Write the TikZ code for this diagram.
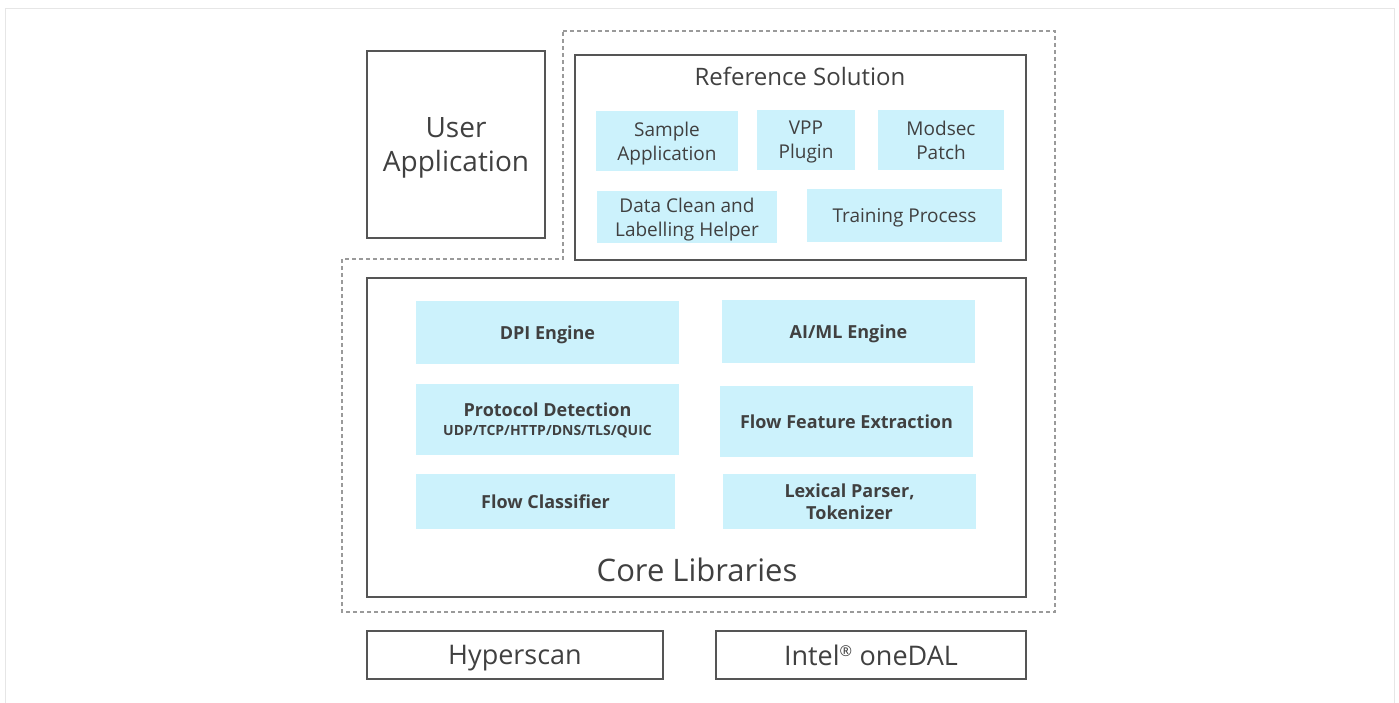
\documentclass[tikz,border=0pt]{standalone}
\usepackage{fontspec}
\setmainfont{Open Sans}
\definecolor{boxcyan}{HTML}{CCF2FC}
\definecolor{txtgray}{HTML}{404040}
\definecolor{linegray}{HTML}{555555}
\definecolor{dashgray}{HTML}{9A9A9A}
\definecolor{framegray}{HTML}{E6E6E6}

\begin{document}
\begin{tikzpicture}[x=1pt,y=-1pt,
    outbox/.style={draw=linegray,line width=1.4pt,inner sep=0pt,align=center,text=txtgray,text depth=0pt},
    refbox/.style={fill=boxcyan,inner sep=0pt,align=center,text=txtgray,text depth=0pt,font=\fontsize{19}{24}\selectfont},
    corebox/.style={fill=boxcyan,inner sep=0pt,align=center,text=txtgray,text depth=-0.5pt,font=\bfseries\fontsize{18}{22}\selectfont}]
    \useasboundingbox (0,0) rectangle (1399,703);
    \draw [framegray] (5,703) -- (5,8) -- (1394,8) -- (1394,703); 	% frame
    % % ----- dashed group ----- % %
    \draw [dashgray,line width=1.2pt,dash pattern=on 4pt off 3pt] (563,31) -- (1055,31) -- (1055,612) -- (342,612) -- (342,259) -- (563,259) -- cycle;
    % % ----- user application ----- % %
    \node [outbox,minimum width=178pt,minimum height=187pt,font=\fontsize{28}{34}\selectfont] (userapp) at (456,144.5) {User\\Application};
    % % ----- reference solution ----- % %
    \node [outbox,minimum width=451pt,minimum height=205pt] (refsol) at (800.5,157.5) {};
    \node [text=txtgray,font=\fontsize{24}{28}\selectfont] (reftitle) at (800,76) {Reference Solution};
    \node [refbox,minimum width=142pt,minimum height=60pt] (sample) at (667,141) {Sample\\Application}; 		% sample app
    \node [refbox,minimum width=98pt,minimum height=60pt] (vpp) at (806,140) {VPP\\Plugin}; 				% vpp
    \node [refbox,minimum width=126pt,minimum height=60pt] (modsec) at (941,140) {Modsec\\Patch}; 			% modsec
    \node [refbox,minimum width=180pt,minimum height=52pt] (dataclean) at (687,217) {Data Clean and\\Labelling Helper};
    \node [refbox,minimum width=195pt,minimum height=53pt] (training) at (904.5,215.5) {Training Process};
    % % ----- core libraries ----- % %
    \node [outbox,minimum width=659pt,minimum height=319pt] (core) at (696.5,437.5) {};
    \node [corebox,minimum width=263pt,minimum height=63pt] (dpi) at (547.5,332.5) {DPI Engine};
    \node [corebox,minimum width=253pt,minimum height=63pt] (aiml) at (848.5,331.5) {AI/ML Engine};
    \node [corebox,minimum width=263pt,minimum height=71pt] (proto) at (547.5,419.5) {Protocol Detection\\[-3pt]{\fontsize{14}{16}\selectfont UDP/TCP/HTTP/DNS/TLS/QUIC}};
    \node [corebox,minimum width=253pt,minimum height=71pt] (feature) at (846.5,421.5) {Flow Feature Extraction};
    \node [corebox,minimum width=259pt,minimum height=55pt] (classifier) at (545.5,501.5) {Flow Classifier};
    \node [corebox,minimum width=253pt,minimum height=55pt] (lexer) at (849.5,501.5) {Lexical Parser,\\Tokenizer};
    \node [text=txtgray,font=\fontsize{31}{36}\selectfont] (coretitle) at (697,570) {Core Libraries};
    % % ----- bottom libs ----- % %
    \node [outbox,minimum width=296pt,minimum height=48pt,font=\fontsize{27}{32}\selectfont] (hyperscan) at (515,655) {Hyperscan};
    \node [outbox,minimum width=310pt,minimum height=48pt,font=\fontsize{27}{32}\selectfont] (onedal) at (871,655) {Intel\textsuperscript{\fontsize{15}{15}\selectfont ®} oneDAL};
\end{tikzpicture}
\end{document}
